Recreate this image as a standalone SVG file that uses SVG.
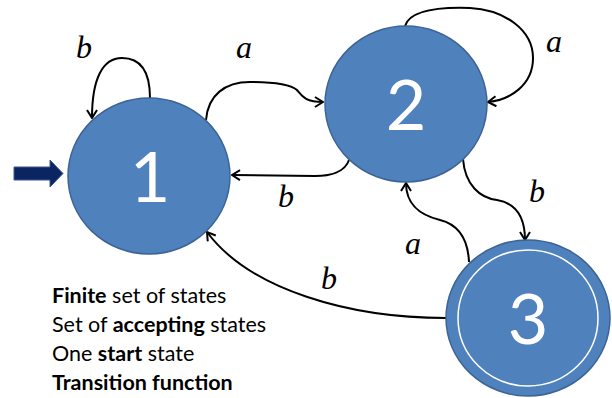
<svg xmlns="http://www.w3.org/2000/svg" width="612" height="398" viewBox="0 0 612 398">
  <style>
    .state { fill: #4F81BD; stroke: #3C6494; stroke-width: 1.5; }
    .inner { fill: none; stroke: #FFFFFF; stroke-width: 1.5; }
    .num { fill: #FFFFFF; font-family: Lato, "Open Sans", sans-serif; font-size: 70px; text-anchor: middle; }
    .edge { fill: none; stroke: #000000; stroke-width: 2; marker-end: url(#arrow); }
    .lbl { font-family: "Liberation Serif", serif; font-style: italic; font-size: 32px; fill: #000000; }
    .note { font-family: Lato, "Open Sans", sans-serif; font-size: 21.5px; fill: #000000; }
    .note tspan.b { font-weight: bold; }
  </style>
  <defs>
    <marker id="arrow" viewBox="0 0 12 12" refX="11" refY="6" markerWidth="12" markerHeight="12" markerUnits="userSpaceOnUse" orient="auto">
      <polyline points="3,1 11,6 3,11" fill="none" stroke="#000000" stroke-width="2" stroke-linejoin="miter"/>
    </marker>
  </defs>

  <rect width="612" height="398" fill="#FFFFFF"/>

  <!-- start arrow -->
  <g id="start">
    <polygon points="14,167 50,167 50,160 63,173.5 50,187 50,180 14,180" fill="#0B2462" stroke="#3B5A8E" stroke-width="1"/>
  </g>

  <!-- transitions -->
  <g id="connectors">
    <path class="edge" d="M150,98 C150,70 140,58 122,58 C102,58 92,80 92,118"/>
    <path class="edge" d="M206,120 C208,95 225,82 250,82 C275,82 290,84 297,90 C302,96 305,102 323,102"/>
    <path class="edge" d="M349,160 C345,172 330,176 315,176 L232,175"/>
    <path class="edge" d="M405,26 C410,10 440,7 470,8 C505,10 533,30 533,58 C533,85 510,100 488,102"/>
    <path class="edge" d="M463,159 C465,185 480,198 497,200 C515,203 525,215 525,240"/>
    <path class="edge" d="M469,262 C468,240 460,225 440,220 C420,215 406,205 406,183"/>
    <path class="edge" d="M446,318 C350,318 250,290 207,232"/>
  </g>

  <!-- transition labels -->
  <g id="labels">
    <text class="lbl" x="76" y="58">b</text>
    <text class="lbl" x="236" y="58">a</text>
    <text class="lbl" x="278" y="207">b</text>
    <text class="lbl" x="546" y="52">a</text>
    <text class="lbl" x="529" y="202">b</text>
    <text class="lbl" x="405" y="254">a</text>
    <text class="lbl" x="321" y="289">b</text>
  </g>

  <g id="state1">
    <ellipse class="state" cx="149" cy="176" rx="81" ry="78"/>
    <text class="num" x="150" y="202">1</text>
  </g>

  <g id="state2">
    <ellipse class="state" cx="406" cy="104" rx="81" ry="78"/>
    <text class="num" x="406" y="130">2</text>
  </g>

  <g id="state3">
    <ellipse class="state" cx="528" cy="318" rx="82" ry="78"/>
    <ellipse class="inner" cx="528" cy="318" rx="70" ry="68"/>
    <text class="num" x="528" y="344">3</text>
  </g>

  <!-- definition notes -->
  <g id="notes">
    <text class="note" x="52" y="303"><tspan class="b">Finite</tspan> set of states</text>
    <text class="note" x="52" y="332">Set of <tspan class="b">accepting</tspan> states</text>
    <text class="note" x="52" y="361">One <tspan class="b">start</tspan> state</text>
    <text class="note" x="52" y="390"><tspan class="b">Transition function</tspan></text>
  </g>
</svg>
